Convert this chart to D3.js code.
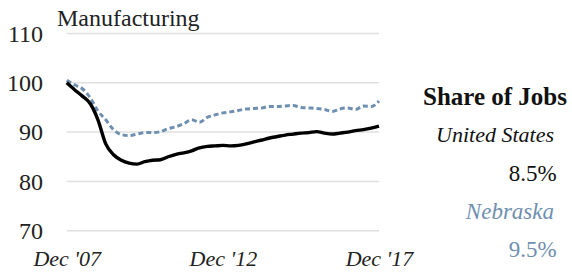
<!DOCTYPE html>
<html>
<head>
<meta charset="utf-8">
<script src="https://cdn.jsdelivr.net/npm/d3@7"></script>
<style>
body { margin: 0; background: #fff; }
</style>
</head>
<body>
<svg id="chart" width="572" height="274"></svg>
<script>
// quarterly readings, months since Dec 2007 (index 100 = Dec '07)
var months = [0,3,6,9,12,15,18,21,24,27,30,33,36,39,42,45,48,51,54,57,60,63,66,69,72,75,78,81,84,87,90,93,96,99,102,105,108,111,114,117,120]

var usValues = [100.0,98.6,97.3,95.8,92.5,87.6,85.4,84.3,83.7,83.5,84.0,84.3,84.4,85.0,85.5,85.8,86.2,86.8,87.1,87.2,87.3,87.2,87.3,87.6,88.0,88.4,88.8,89.1,89.4,89.6,89.8,89.9,90.1,89.8,89.6,89.8,90.0,90.3,90.5,90.8,91.2]

var neValues = [100.5,99.6,98.8,97.0,94.3,92.5,90.5,89.5,89.3,89.6,89.9,89.9,90.1,90.7,91.1,91.7,92.5,92.0,93.0,93.5,93.9,94.1,94.4,94.7,94.8,94.9,95.2,95.2,95.3,95.4,95.0,94.9,94.8,94.6,94.2,94.7,94.9,94.6,95.3,95.2,96.3]

var yTicks = [70,80,90,100,110]
var xTicks = [0,60,120]
var xTickLabels = ["Dec '07","Dec '12","Dec '17"]

var legendItems = [
    {text:"Share of Jobs", kind:"head"},
    {text:"United States", kind:"name", color:"#111"},
    {text:"8.5%", kind:"value", color:"#111"},
    {text:"Nebraska", kind:"name", color:"#6f8fb0"},
    {text:"9.5%", kind:"value", color:"#6f8fb0"}
]

var serif = "'Liberation Serif'"
var svg = d3.select("#chart")

var xScale = d3.scaleLinear()
    .domain([0,120])
    .range([66.7,379])

var yScale = d3.scaleLinear()
    .domain([70,110])
    .range([230.7,33.5])

// gridlines
svg.append("g")
    .selectAll("line")
    .data(yTicks)
    .enter()
    .append("line")
    .attr("x1",xScale(0))
    .attr("x2",xScale(120))
    .attr("y1",function(d){ return yScale(d) })
    .attr("y2",function(d){ return yScale(d) })
    .attr("stroke","#e0e0e0")
    .attr("stroke-width",1.5)

// y labels
var yAxis = d3.axisLeft(yScale).tickValues(yTicks).tickSize(0).tickPadding(0)
var yg = svg.append("g")
    .attr("transform","translate(43,0)")
    .call(yAxis)
yg.attr("font-family",null).attr("font-size",null)
yg.select(".domain").remove()
yg.selectAll("text")
    .style("font-family",serif)
    .style("font-size","24px")
    .attr("fill","#222")

// x labels
var xAxis = d3.axisBottom(xScale).tickValues(xTicks)
    .tickFormat(function(d,i){ return xTickLabels[i] })
    .tickSize(0).tickPadding(0)
var xg = svg.append("g")
    .attr("transform","translate(0,250)")
    .call(xAxis)
xg.attr("font-family",null).attr("font-size",null)
xg.select(".domain").remove()
xg.selectAll("text")
    .style("font-family",serif)
    .style("font-size","22px")
    .style("font-style","italic")
    .attr("fill","#222")

var line = d3.line()
    .x(function(d){ return xScale(d[0]) })
    .y(function(d){ return yScale(d[1]) })
    .curve(d3.curveMonotoneX)

svg.append("path")
    .datum(months.map(function(m,i){ return [m,neValues[i]] }))
    .attr("d",line)
    .attr("fill","none")
    .attr("stroke","#6f8fb0")
    .attr("stroke-width",3)
    .attr("stroke-dasharray","5,3")

svg.append("path")
    .datum(months.map(function(m,i){ return [m,usValues[i]] }))
    .attr("d",line)
    .attr("fill","none")
    .attr("stroke","#000")
    .attr("stroke-width",3.4)

// title
svg.append("text")
    .text("Manufacturing")
    .attr("x",57)
    .attr("y",26)
    .style("font-family",serif)
    .style("font-size","24px")
    .attr("fill","#222")

// legend on the right
var legendY = [105,141.7,180.7,219,256.7]
var legendX = {head:567, name:554, value:556.7}
var legendSize = {head:"25px", name:"22px", value:"23px"}
svg.append("g")
    .selectAll("text")
    .data(legendItems)
    .enter()
    .append("text")
    .text(function(d){ return d.text })
    .attr("x",function(d){ return legendX[d.kind] })
    .attr("y",function(d,i){ return legendY[i] })
    .attr("text-anchor","end")
    .style("font-family",serif)
    .style("font-size",function(d,i){ return i==3 ? "23px" : legendSize[d.kind] })
    .style("font-weight",function(d){ return d.kind=="head" ? "bold" : "normal" })
    .style("font-style",function(d){ return d.kind=="name" ? "italic" : "normal" })
    .attr("fill",function(d){ return d.color || "#111" })
</script>
</body>
</html>
